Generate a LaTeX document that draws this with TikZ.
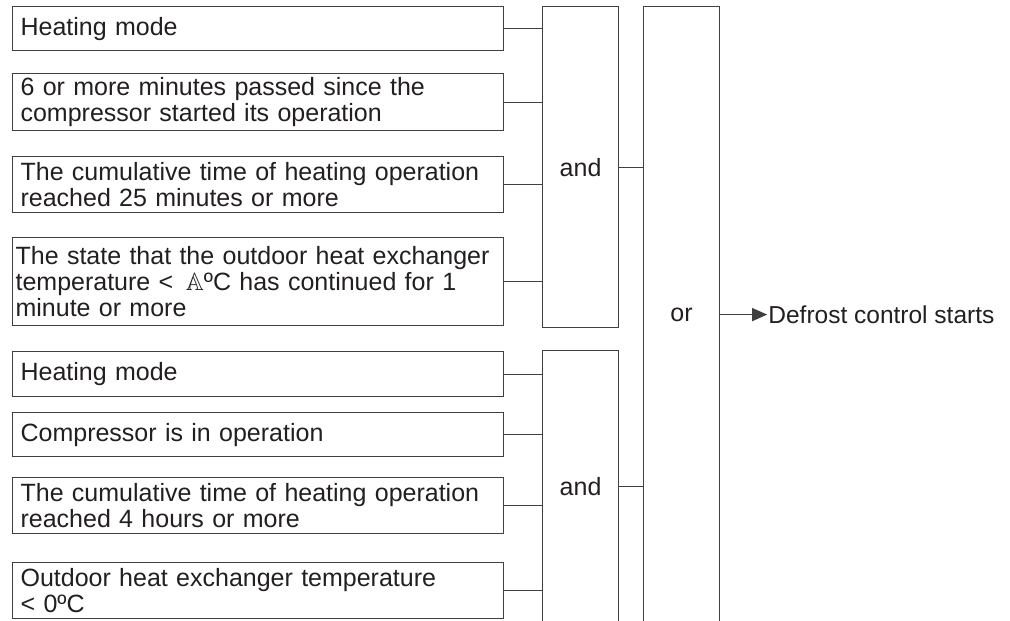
\documentclass[tikz,border=0pt]{standalone}
\usepackage{fontspec}
\usepackage{amssymb}
\setmainfont{Liberation Sans}
\usetikzlibrary{arrows.meta, positioning}
\definecolor{lineg}{HTML}{404040}
\definecolor{inkblk}{HTML}{231F20}

\begin{document}
\begin{tikzpicture}[x=1pt, y=-1pt,
    cond/.style={draw=lineg, line width=1.2pt, anchor=north west, minimum width=491pt,
                 text width=475pt, inner xsep=8pt, inner ysep=2pt, align=left,
                 text=inkblk, font=\fontsize{25}{26}\selectfont},
    gate/.style={draw=lineg, line width=1.2pt, anchor=north west, minimum width=76pt,
                 text=inkblk, font=\fontsize{25}{26}\selectfont},
    wire/.style={draw=lineg, line width=1.2pt},
]
    \useasboundingbox (0,0) rectangle (1010,621);
    \clip (0,0) rectangle (1010,621);

    % First condition set
    \node[cond, minimum height=44pt] (c1) at (12,6) {Heating mode};
    \node[cond, minimum height=57pt] (c2) at (12,73) {6 or more minutes passed since the\\compressor started its operation};
    \node[cond, minimum height=56pt] (c3) at (12,156) {The cumulative time of heating operation\\reached 25 minutes or more};
    \node[cond, minimum height=88pt, text width=485pt, inner xsep=3pt] (c4) at (12,237) {The state that the outdoor heat exchanger\\temperature < \,$\mathbb{A}$ºC has continued for 1\\minute or more};

    % Second condition set
    \node[cond, minimum height=45pt] (c5) at (12,351) {Heating mode};
    \node[cond, minimum height=44pt] (c6) at (12,412) {Compressor is in operation};
    \node[cond, minimum height=56pt] (c7) at (12,477) {The cumulative time of heating operation\\reached 4 hours or more};
    \node[cond, minimum height=56pt] (c8) at (12,562) {Outdoor heat exchanger temperature\\< 0ºC};

    % Gates
    \node[gate, minimum height=321pt] (ag1) at (542,6) {and};
    \node[gate, minimum height=272pt] (ag2) at (542,350) {and};
    \node[gate, minimum height=616pt] (og) at (643,6) {or};
    \node[right=47pt of og, inner sep=1pt, text=inkblk, font=\fontsize{24.5}{26}\selectfont] (ds) {Defrost control starts};

    % Wires
    \foreach \c in {c1,c2,c3,c4}
        \draw[wire] (\c.east) -- (\c.east -| ag1.west);
    \foreach \c in {c5,c6,c7,c8}
        \draw[wire] (\c.east) -- (\c.east -| ag2.west);
    \draw[wire] (ag1.east) -- (ag1.east -| og.west);
    \draw[wire] (ag2.east) -- (ag2.east -| og.west);
    \draw[wire, -{Triangle[length=15pt, width=13pt]}] (og.east) -- (ds.west);
\end{tikzpicture}
\end{document}
